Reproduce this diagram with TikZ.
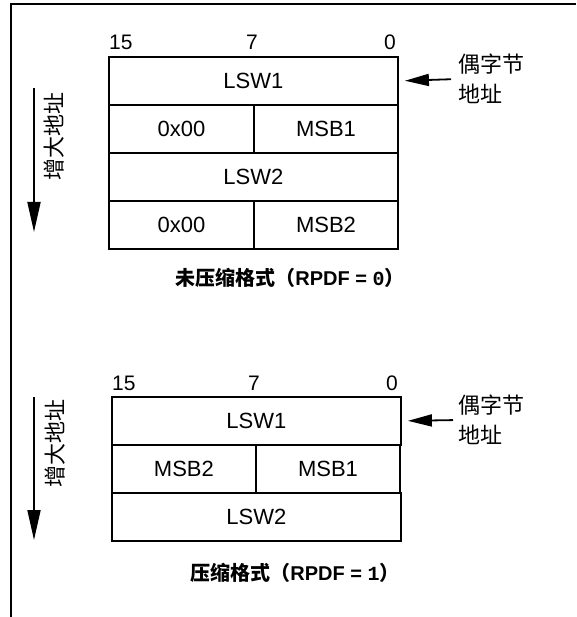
\documentclass[tikz,border=0pt]{standalone}
\usepackage{fontspec}
\setmainfont{Liberation Sans}
\newfontfamily\cjk{Noto Sans CJK SC}
\newfontfamily\digmono{Liberation Mono}
\usetikzlibrary{arrows.meta}
\tikzset{
  frameline/.style={line width=2pt},
  cell/.style={draw, line width=1.9pt, inner sep=0pt, anchor=north west,
    minimum height=48pt, font=\fontsize{22}{26}\selectfont},
  full/.style={cell, minimum width=289pt},
  halfl/.style={cell, minimum width=145pt},
  halfr/.style={cell, minimum width=144pt},
  bitnum/.style={inner sep=0pt, font=\fontsize{21}{25}\selectfont},
  cjklabel/.style={inner sep=0pt, align=left, font=\cjk\fontsize{22}{30}\selectfont},
  caption/.style={inner sep=0pt, font=\fontsize{20}{24}\selectfont\bfseries},
  harr/.style={line width=1.8pt, -{Triangle[length=24pt,width=12pt]}},
  varr/.style={line width=1.8pt, -{Triangle[length=30pt,width=13pt]}},
}
\begin{document}
\begin{tikzpicture}[x=1pt,y=-1pt]
\useasboundingbox (0,0) rectangle (576,617);
\draw[frameline] (11,617) -- (11,4) -- (576,4);

% ---------- first diagram ----------
\node[bitnum, anchor=base west] (n15a) at (109,50) {15};
\node[bitnum, anchor=base] (n7a) at (252,50) {7};
\node[bitnum, anchor=base east] (n0a) at (396,50) {0};

\node[full] (lswa1) at (108,56) {LSW1};
\node[halfl] (z1) at (108,104) {0x00};
\node[halfr] (msba1) at (253,104) {MSB1};
\node[full] (lswa2) at (108,152) {LSW2};
\node[halfl] (z2) at (108,200) {0x00};
\node[halfr] (msba2) at (253,200) {MSB2};

\node[cjklabel, anchor=west] (lbla) at (458,79) {偶字节\\地址};
\draw[harr, shorten <=7pt, shorten >=6pt] (lbla.west) -- (lswa1.east);

\coordinate (vas) at (34,88);
\coordinate (vae) at (34,232);
\draw[varr] (vas) -- (vae);
\node[cjklabel, rotate=90] (vla) at (54,137) {增大地址};

\node[caption] (capa) at (290,278) {{\cjk 未压缩格式（}RPDF = {\digmono\bfseries 0}{\cjk ）}};

% ---------- second diagram ----------
\node[bitnum, anchor=base west] (n15b) at (112,390) {15};
\node[bitnum, anchor=base] (n7b) at (254,390) {7};
\node[bitnum, anchor=base east] (n0b) at (398,390) {0};

\node[full] (lswb1) at (111,396) {LSW1};
\node[halfl, minimum width=144pt] (msbb2) at (111,444) {MSB2};
\node[halfr] (msbb1) at (255,444) {MSB1};
\node[full] (lswb2) at (111,492) {LSW2};

\node[cjklabel, anchor=west] (lblb) at (458,420) {偶字节\\地址};
\draw[harr, shorten <=5pt, shorten >=6pt] (lblb.west) -- (lswb1.east);

\coordinate (vbs) at (34,397);
\coordinate (vbe) at (34,540);
\draw[varr] (vbs) -- (vbe);
\node[cjklabel, rotate=90] (vlb) at (55,443) {增大地址};

\node[caption] (capb) at (295,573) {{\cjk 压缩格式（}RPDF = {\digmono\bfseries 1}{\cjk ）}};
\end{tikzpicture}
\end{document}
